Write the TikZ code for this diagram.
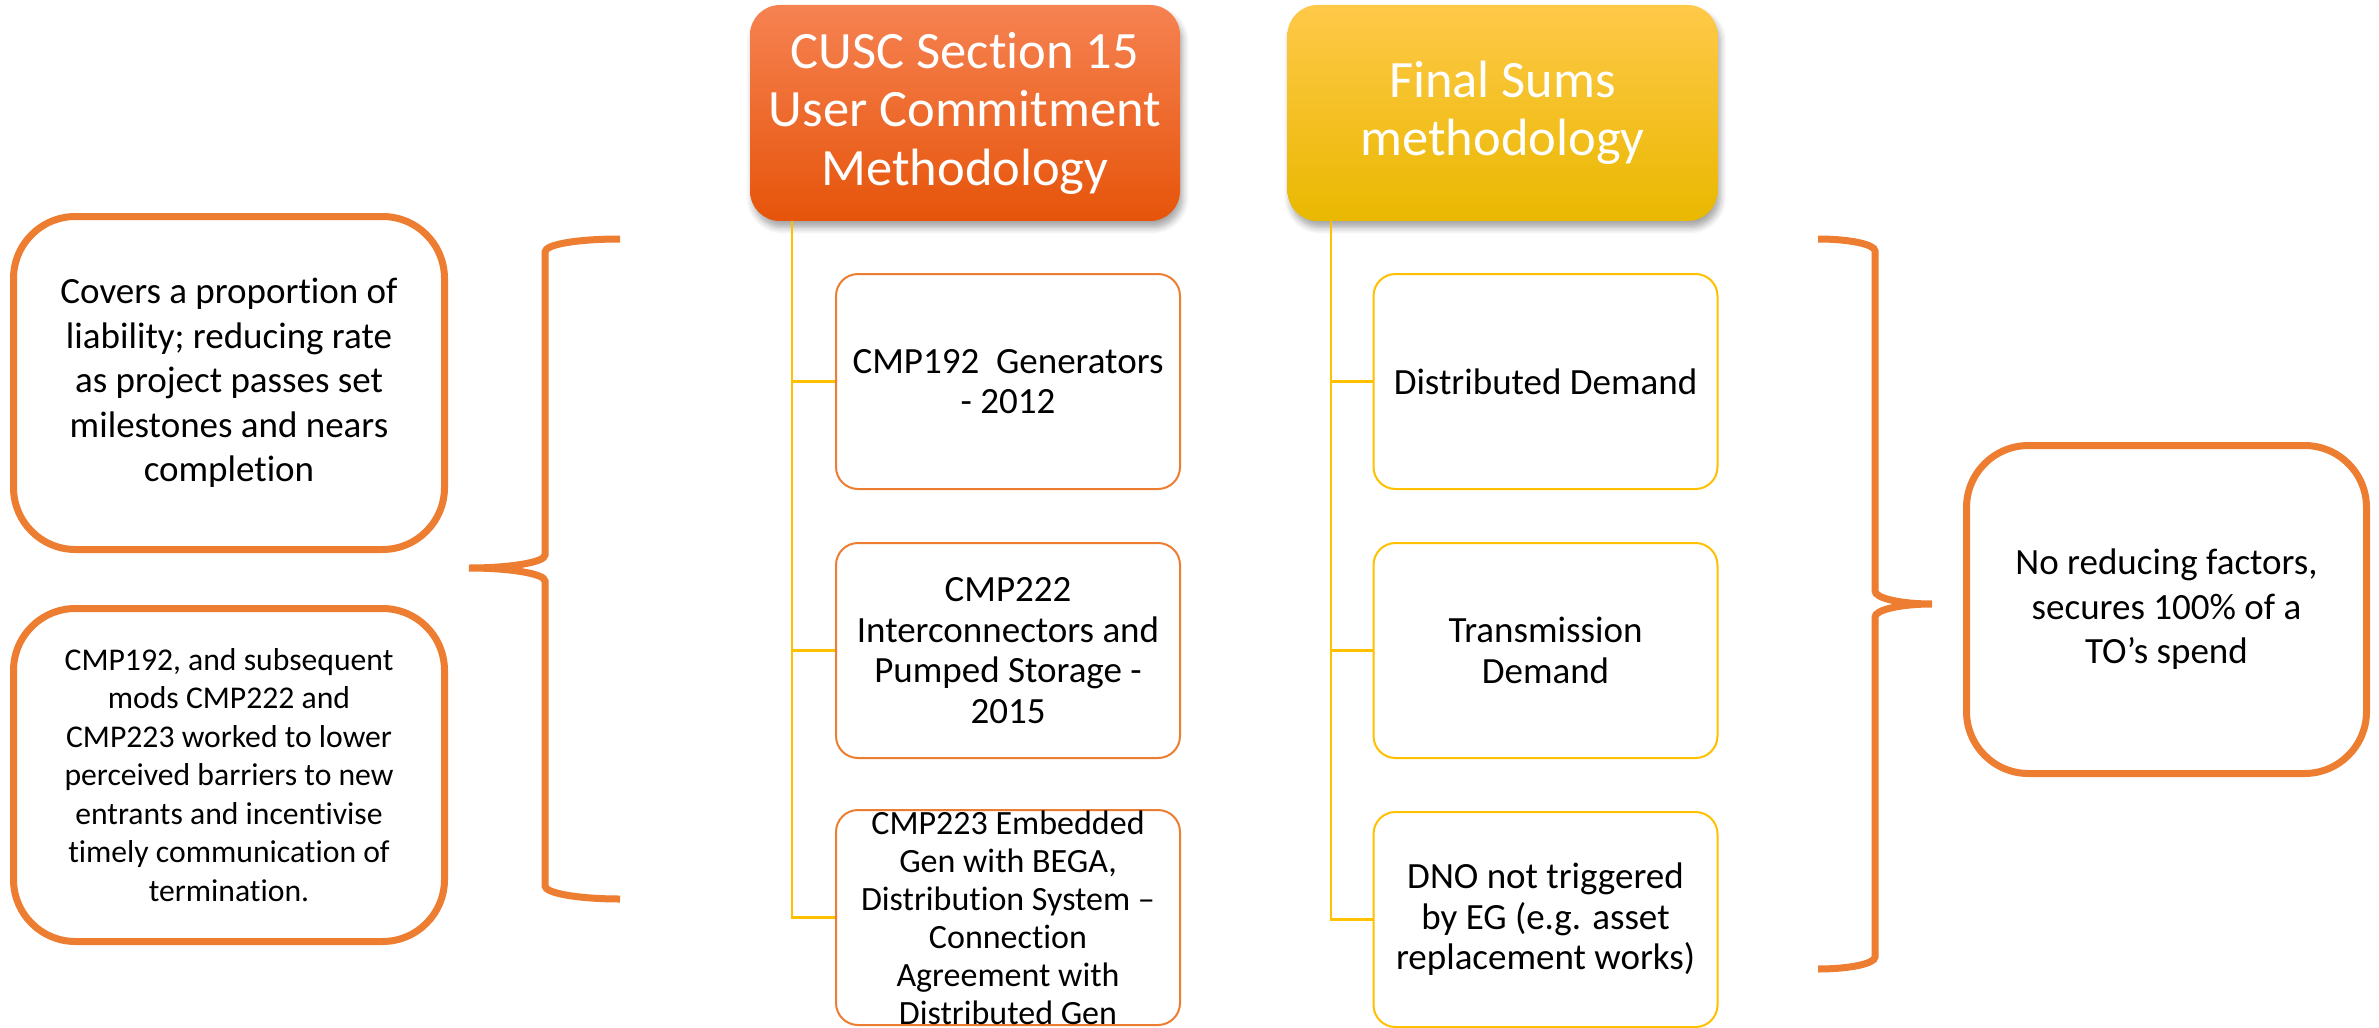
\documentclass[tikz,border=0pt]{standalone}
\usepackage{fontspec}
\setmainfont{Carlito}[Ligatures={NoCommon}]
\usetikzlibrary{shadows.blur}
\definecolor{accor}{RGB}{237,125,49}
\definecolor{gold}{RGB}{255,192,0}
\definecolor{hAtop}{RGB}{246,130,82}
\definecolor{hAmid}{RGB}{242,102,36}
\definecolor{hAbot}{RGB}{230,84,10}
\definecolor{hBtop}{RGB}{255,201,72}
\definecolor{hBmid}{RGB}{255,192,0}
\definecolor{hBbot}{RGB}{233,184,0}
\begin{document}
\begin{tikzpicture}[x=0.3pt,y=-0.3pt,
  hdr/.style={rounded corners=9pt, minimum width=129pt, minimum height=64.8pt, inner sep=0pt,
    align=center, text=white, font=\fontsize{15.75pt}{17.55pt}\selectfont,
    blur shadow={shadow xshift=0.8pt, shadow yshift=-2pt, shadow blur steps=6, shadow opacity=35}},
  bigbox/.style={draw=accor, line width=2.1pt, rounded corners=18.6pt, minimum width=129.3pt,
    minimum height=99.9pt, inner sep=0pt, align=center, fill=white},
  smallbox/.style={rounded corners=6.6pt, minimum width=103.2pt, minimum height=64.5pt,
    inner sep=0pt, align=center, line width=0.6pt, fill=white,
    font=\fontsize{11.1pt}{12.15pt}\selectfont},
  conn/.style={draw=gold, line width=0.75pt},
  bracestyle/.style={draw=accor, line width=2.1pt}
]
\useasboundingbox (0,0) rectangle (2379,1028);

% headers
\node[hdr, top color=hAtop, middle color=hAmid, bottom color=hAbot] (hA) at (965,113)
  {CUSC Section 15\\User Commitment\\Methodology};
\node[hdr, top color=hBtop, middle color=hBmid, bottom color=hBbot] (hB) at (1502.5,113)
  {Final Sums\\methodology};

% middle column
\node[smallbox, draw=accor] (m1) at (1008,381.5) {CMP192\ \ Generators\\- 2012};
\node[smallbox, draw=accor] (m2) at (1008,650.5) {CMP222\\Interconnectors and\\Pumped Storage -\\2015};
\node[smallbox, draw=accor, font=\fontsize{10.2pt}{11.4pt}\selectfont] (m3) at (1008,917.5)
  {CMP223 Embedded\\Gen with BEGA,\\Distribution System –\\Connection\\Agreement with\\Distributed Gen};

% right column
\node[smallbox, draw=gold] (r1) at (1545.5,381.5) {Distributed Demand};
\node[smallbox, draw=gold] (r2) at (1545.5,650.5) {Transmission\\Demand};
\node[smallbox, draw=gold] (r3) at (1545.5,919.5) {DNO not triggered\\by EG (e.g. asset\\replacement works)};

% connectors
\coordinate (ta) at (792,221);
\coordinate (tb) at (1331,221);
\draw[conn] (ta) |- (m1.west);
\draw[conn] (ta) |- (m2.west);
\draw[conn] (ta) |- (m3.west);
\draw[conn] (tb) |- (r1.west);
\draw[conn] (tb) |- (r2.west);
\draw[conn] (tb) |- (r3.west);

% left boxes
\node[bigbox, font=\fontsize{11.1pt}{13.35pt}\selectfont] (l1) at (229,383)
  {Covers a proportion of\\liability; reducing rate\\as project passes set\\milestones and nears\\completion};
\node[bigbox, font=\fontsize{9.5pt}{11.55pt}\selectfont] (l2) at (229,775)
  {CMP192, and subsequent\\mods CMP222 and\\CMP223 worked to lower\\perceived barriers to new\\entrants and incentivise\\timely communication of\\termination.};

% right box
\node[bigbox, minimum width=120pt, minimum height=98.4pt, font=\fontsize{11.1pt}{13.35pt}\selectfont] (rb) at (2166.5,609.5)
  {No reducing factors,\\secures 100\% of a\\TO’s spend};

% left brace
\draw[bracestyle] (620,239) .. controls (578.6,239) and (545,244.2) .. (545,252)
  -- (545,555) .. controls (545,562.2) and (510.4,568) .. (469,568)
  .. controls (510.4,568) and (545,573.8) .. (545,581)
  -- (545,886) .. controls (545,893.2) and (578.6,899) .. (620,899);

% right brace
\draw[bracestyle] (1818,239) .. controls (1849.5,239) and (1875,244.4) .. (1875,251)
  -- (1875,591) .. controls (1875,598.2) and (1900.5,604) .. (1932,604)
  .. controls (1900.5,604) and (1875,609.8) .. (1875,617)
  -- (1875,957) .. controls (1875,963.6) and (1849.5,969) .. (1818,969);
\end{tikzpicture}
\end{document}
